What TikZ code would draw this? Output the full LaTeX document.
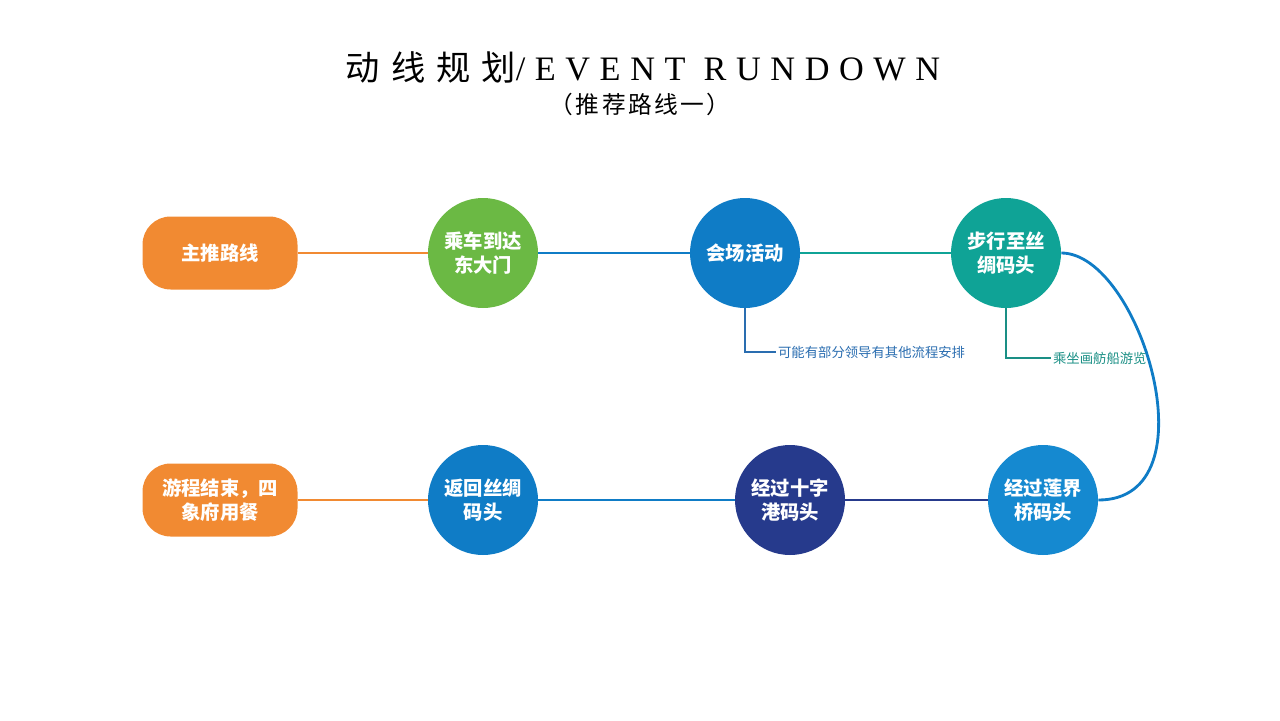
\documentclass[tikz,border=0pt]{standalone}
\usepackage{fontspec}
\usepackage{tikz}
\setmainfont{Liberation Serif}
\newfontfamily\cjk{Noto Sans CJK SC}
\newfontfamily\cjktitle{Noto Sans CJK SC}[LetterSpace=32]
\newfontfamily\cjksub{Noto Sans CJK SC}[LetterSpace=10]
\newfontfamily\latintitle{Liberation Serif}[LetterSpace=28]
\usetikzlibrary{arrows.meta,positioning,calc}

\definecolor{routeorange}{HTML}{F18A32}
\definecolor{routegreen}{HTML}{6BB944}
\definecolor{routeblue}{HTML}{0F7CC6}
\definecolor{routeteal}{HTML}{0FA396}
\definecolor{routesky}{HTML}{1589D0}
\definecolor{routenavy}{HTML}{263A8C}
\definecolor{noteblue}{HTML}{2A6DB0}
\definecolor{noteteal}{HTML}{1A8F85}

\begin{document}
\begin{tikzpicture}[x=0.02cm,y=-0.02cm,
	stop/.style={circle, minimum size=110*0.02cm, inner sep=0pt, text=white,
		font=\cjk\bfseries\fontsize{11}{14}\selectfont, align=center},
	endbox/.style={rounded corners=16pt, minimum width=155*0.02cm,
		minimum height=73*0.02cm, fill=routeorange, text=white, inner sep=0pt,
		font=\cjk\bfseries\fontsize{11}{14}\selectfont, align=center},
	route/.style={line width=1.6pt},
	noteline/.style={line width=1pt},
	notetext/.style={font=\cjk\fontsize{7.6}{9}\selectfont, inner sep=1pt, anchor=west}]
				\useasboundingbox (0,0) rectangle (1280,720);
				
				% Title
				\node (title) at (643,67) {\fontsize{19.5}{22}\selectfont{\cjktitle 动线规划}{\latintitle /EVENT RUNDOWN}};
				\node (subtitle) at (640,104) {\cjksub\fontsize{13.5}{16}\selectfont （推荐路线一）};
				
				% Upper row
				\node[endbox] (start) at (220,253) {主推路线};
				\node[stop, fill=routegreen] (bus) at (483,253) {乘车到达\\东大门};
				\node[stop, fill=routeblue] (venue) at (745,253) {会场活动};
				\node[stop, fill=routeteal] (walk) at (1006,253) {步行至丝\\绸码头};
				
				% Lower row
				\node[stop, fill=routesky] (lianjie) at (1043,500) {经过莲界\\桥码头};
				\node[stop, fill=routenavy] (shizi) at (790,500) {经过十字\\港码头};
				\node[stop, fill=routeblue] (back) at (483,500) {返回丝绸\\码头};
				\node[endbox] (finish) at (220,500) {游程结束，四\\象府用餐};
				
				% Route lines
				\draw[route, routeorange] (start) -- (bus);
				\draw[route, routeblue] (bus) -- (venue);
				\draw[route, routeteal] (venue) -- (walk);
				\draw[route, routeblue] (walk.east) .. controls (1140,253) and (1215,500) .. (lianjie.east);
				\draw[route, routenavy] (lianjie) -- (shizi);
				\draw[route, routeblue] (shizi) -- (back);
				\draw[route, routeorange] (back) -- (finish);
				
				% Side notes
				\node[notetext, text=noteblue] (note1) at (776,352) {可能有部分领导有其他流程安排};
				\draw[noteline, noteblue] (venue.south) |- (note1.west);
				\node[notetext, text=noteteal] (note2) at (1051,358) {乘坐画舫船游览};
				\draw[noteline, noteteal] (walk.south) |- (note2.west);
			\end{tikzpicture}
\end{document}
